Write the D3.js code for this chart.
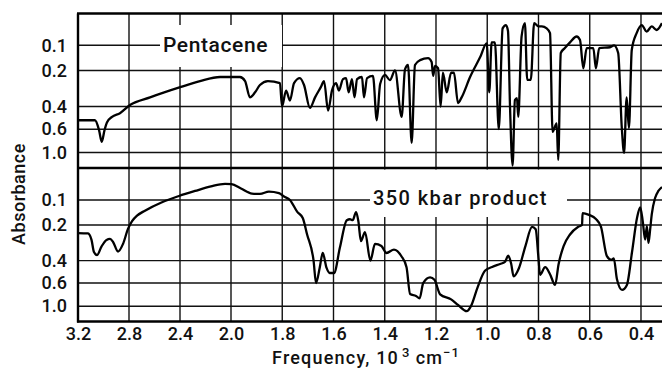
<!DOCTYPE html>
<html>
<head>
<meta charset="utf-8">
<script src="https://cdn.jsdelivr.net/npm/d3@7"></script>
<style>
  body { margin: 0; background: #fff; }
  svg { display: block; }
  text { font-family: Roboto, "DejaVu Sans", sans-serif; fill: #111; font-weight: 500; }
</style>
</head>
<body>
<svg id="chart" width="662" height="369"></svg>
<script>
// frequency in 10^3 cm-1, absorbance
const xTicks = [3.2, 2.8, 2.4, 2.0, 1.8, 1.6, 1.4, 1.2, 1.0, 0.8, 0.6, 0.4];
const absTicks = [0.1, 0.2, 0.4, 0.6, 1.0];

const pentaceneFreq = [3.20, 3.067, 3.035, 3.014, 2.992, 2.973, 2.933, 2.871, 2.792, 2.635,
  2.392, 2.243, 2.086, 2.00, 1.965, 1.945, 1.926, 1.906, 1.887, 1.856,
  1.809, 1.801, 1.785, 1.770, 1.754, 1.731, 1.715, 1.692, 1.672, 1.649,
  1.637, 1.621, 1.606, 1.590, 1.579, 1.563, 1.551, 1.541, 1.528, 1.518,
  1.508, 1.489, 1.481, 1.469, 1.446, 1.431, 1.418, 1.399, 1.380, 1.360,
  1.334, 1.321, 1.309, 1.295, 1.282, 1.262, 1.231, 1.217, 1.211, 1.204,
  1.192, 1.182, 1.173, 1.158, 1.141, 1.130, 1.114, 1.100, 1.067, 1.028,
  1.002, 0.992, 0.983, 0.970, 0.955, 0.940, 0.927, 0.919, 0.911, 0.901,
  0.892, 0.884, 0.879, 0.866, 0.853, 0.844, 0.830, 0.817, 0.800, 0.787,
  0.768, 0.755, 0.745, 0.729, 0.723, 0.713, 0.697, 0.677, 0.651, 0.638,
  0.625, 0.612, 0.586, 0.576, 0.563, 0.521, 0.505, 0.489, 0.475, 0.466,
  0.456, 0.447, 0.436, 0.417, 0.397, 0.378, 0.358, 0.339, 0.318];
const pentaceneAbs = [0.51, 0.51, 0.61, 0.77, 0.61, 0.53, 0.48, 0.45, 0.39, 0.34,
  0.28, 0.25, 0.23, 0.23, 0.23, 0.25, 0.34, 0.31, 0.27, 0.25,
  0.26, 0.40, 0.30, 0.36, 0.26, 0.235, 0.27, 0.41, 0.34, 0.28,
  0.25, 0.43, 0.30, 0.26, 0.30, 0.24, 0.235, 0.31, 0.24, 0.34,
  0.24, 0.23, 0.34, 0.235, 0.225, 0.51, 0.265, 0.22, 0.245, 0.20,
  0.48, 0.195, 0.176, 0.79, 0.176, 0.156, 0.148, 0.164, 0.225, 0.18,
  0.19, 0.40, 0.21, 0.31, 0.21, 0.21, 0.376, 0.34, 0.23, 0.145,
  0.093, 0.31, 0.09, 0.09, 0.60, 0.044, 0.034, 0.052, 0.41, 1.8,
  0.356, 0.344, 0.48, 0.07, 0.028, 0.244, 0.244, 0.028, 0.038, 0.038,
  0.044, 0.059, 0.63, 0.54, 1.28, 0.128, 0.11, 0.09, 0.07, 0.082,
  0.19, 0.11, 0.11, 0.19, 0.11, 0.107, 0.10, 0.128, 0.58, 1.01,
  0.34, 0.587, 0.117, 0.059, 0.034, 0.054, 0.038, 0.049, 0.028];

const productFreq = [3.20, 3.122, 3.094, 3.075, 3.051, 3.016, 2.976, 2.949, 2.925, 2.886,
  2.847, 2.808, 2.776, 2.737, 2.675, 2.541, 2.408, 2.282, 2.157, 2.047,
  1.998, 1.961, 1.918, 1.887, 1.852, 1.813, 1.793, 1.770, 1.742, 1.720,
  1.703, 1.678, 1.668, 1.654, 1.642, 1.627, 1.615, 1.598, 1.575, 1.548,
  1.536, 1.525, 1.512, 1.503, 1.493, 1.477, 1.456, 1.438, 1.413, 1.393,
  1.364, 1.335, 1.315, 1.301, 1.278, 1.264, 1.250, 1.223, 1.206, 1.184,
  1.141, 1.114, 1.080, 1.063, 1.038, 1.009, 0.981, 0.950, 0.931, 0.918,
  0.907, 0.897, 0.876, 0.851, 0.825, 0.811, 0.800, 0.794, 0.774, 0.755,
  0.735, 0.722, 0.702, 0.677, 0.646, 0.630, 0.628, 0.603, 0.576, 0.556,
  0.533, 0.515, 0.506, 0.494, 0.474, 0.455, 0.435, 0.415, 0.403, 0.393,
  0.384, 0.377, 0.371, 0.364, 0.358, 0.345, 0.332, 0.318];
const productAbs = [0.238, 0.24, 0.273, 0.343, 0.362, 0.31, 0.273, 0.268, 0.284, 0.34,
  0.295, 0.218, 0.183, 0.16, 0.14, 0.108, 0.086, 0.069, 0.054, 0.046,
  0.047, 0.061, 0.078, 0.079, 0.071, 0.076, 0.088, 0.10, 0.144, 0.17,
  0.245, 0.397, 0.599, 0.456, 0.349, 0.456, 0.499, 0.499, 0.316, 0.179,
  0.175, 0.179, 0.146, 0.183, 0.279, 0.234, 0.40, 0.295, 0.307, 0.349,
  0.328, 0.37, 0.45, 0.745, 0.777, 0.82, 0.60, 0.54, 0.565, 0.75,
  0.84, 0.966, 1.17, 0.99, 0.655, 0.48, 0.448, 0.425, 0.41, 0.366,
  0.42, 0.53, 0.456, 0.307, 0.209, 0.22, 0.384, 0.515, 0.45, 0.51,
  0.622, 0.43, 0.307, 0.245, 0.209, 0.20, 0.15, 0.157, 0.174, 0.209,
  0.369, 0.395, 0.384, 0.557, 0.686, 0.622, 0.343, 0.167, 0.127, 0.185,
  0.271, 0.205, 0.289, 0.218, 0.155, 0.093, 0.069, 0.056];

const panelLabels = ["Pentacene", "350 kbar product"];

const width = 662;
const left = 78;
const fmt = d3.format(".1f");

const svg = d3.select("#chart");

// wavenumber scale changes at 2000 cm-1, as on the original chart paper
const x = d3.scaleLinear().domain([3.2, 2.0, 0.318]).range([left, 231, width]);

const panels = [
  { top: 13.5, bottom: 168, freq: pentaceneFreq, abs: pentaceneAbs, label: panelLabels[0],
    box: [160, 25, 122, 42], textX: 163, textY: 52, fontSize: 21, spacing: 0.6 },
  { top: 168.5, bottom: 321.5, freq: productFreq, abs: productAbs, label: panelLabels[1],
    box: [370, 169.5, 197, 47.5], textX: 373, textY: 205, fontSize: 20, spacing: 1.4 }
];

panels.forEach(p => {
  // the paper is linear in transmittance, labelled in absorbance
  const y = d3.scaleLinear().domain([1, 0]).range([p.top, p.bottom]);
  const g = svg.append("g");

  g.selectAll(".hgrid")
    .data(absTicks)
    .enter()
    .append("line")
    .attr("x1", left)
    .attr("x2", width)
    .attr("y1", d => y(10 ** -d))
    .attr("y2", d => y(10 ** -d))
    .attr("stroke", "#111")
    .attr("stroke-width", 1.4);

  g.selectAll(".vgrid")
    .data(xTicks)
    .enter()
    .append("line")
    .attr("x1", d => x(d))
    .attr("x2", d => x(d))
    .attr("y1", p.top)
    .attr("y2", p.bottom)
    .attr("stroke", "#111")
    .attr("stroke-width", 1.4);

  // label sits on a white patch that hides the grid
  g.append("rect")
    .attr("x", p.box[0])
    .attr("y", p.box[1])
    .attr("width", p.box[2])
    .attr("height", p.box[3])
    .attr("fill", "#fff");

  g.append("text")
    .attr("x", p.textX)
    .attr("y", p.textY)
    .style("font-size", p.fontSize + "px")
    .style("letter-spacing", p.spacing + "px")
    .text(p.label);

  const line = d3.line()
    .x(d => x(d[0]))
    .y(d => y(10 ** -d[1]))
    .curve(d3.curveMonotoneX);

  g.append("path")
    .datum(d3.zip(p.freq, p.abs))
    .attr("d", line)
    .attr("fill", "none")
    .attr("stroke", "#000")
    .attr("stroke-width", 2.3)
    .attr("stroke-linejoin", "round");

  const yAxis = g.append("g")
    .attr("transform", `translate(${left}, 0)`)
    .call(d3.axisLeft(y)
      .tickValues(absTicks.map(a => 10 ** -a))
      .tickFormat(t => fmt(-Math.log10(t)))
      .tickSize(0)
      .tickPadding(11));
  yAxis.select(".domain").remove();
  yAxis.selectAll("text")
    .attr("font-family", null)
    .style("font-size", "18px");
});

// frame
const frameY = [13.5, 168, 321.5];
svg.selectAll(".frame")
  .data(frameY)
  .enter()
  .append("line")
  .attr("x1", left - 1)
  .attr("x2", width)
  .attr("y1", d => d)
  .attr("y2", d => d)
  .attr("stroke", "#000")
  .attr("stroke-width", 2.4);

svg.append("line")
  .attr("x1", left)
  .attr("x2", left)
  .attr("y1", 13.5)
  .attr("y2", 322.5)
  .attr("stroke", "#000")
  .attr("stroke-width", 2.4);

// x axis
const xAxis = svg.append("g")
  .attr("transform", "translate(0, 321.5)")
  .call(d3.axisBottom(x).tickValues(xTicks).tickFormat(fmt).tickSize(0).tickPadding(6));
xAxis.select(".domain").remove();
xAxis.selectAll("text")
  .attr("font-family", null)
  .style("font-size", "18px");

const xTitle = svg.append("text")
  .attr("x", 272)
  .attr("y", 364)
  .style("font-size", "18px")
  .style("letter-spacing", "1.2px");
xTitle.append("tspan").text("Frequency, 10");
xTitle.append("tspan").attr("dy", -7).attr("dx", 3).style("font-size", "13px").text("3");
xTitle.append("tspan").attr("dy", 7).attr("dx", 5).text("cm");
xTitle.append("tspan").attr("dy", -7).style("font-size", "13px").text("\u22121");

svg.append("text")
  .attr("transform", "translate(25, 194) rotate(-90)")
  .attr("text-anchor", "middle")
  .style("font-size", "18px")
  .style("letter-spacing", "0.5px")
  .text("Absorbance");
</script>
</body>
</html>
